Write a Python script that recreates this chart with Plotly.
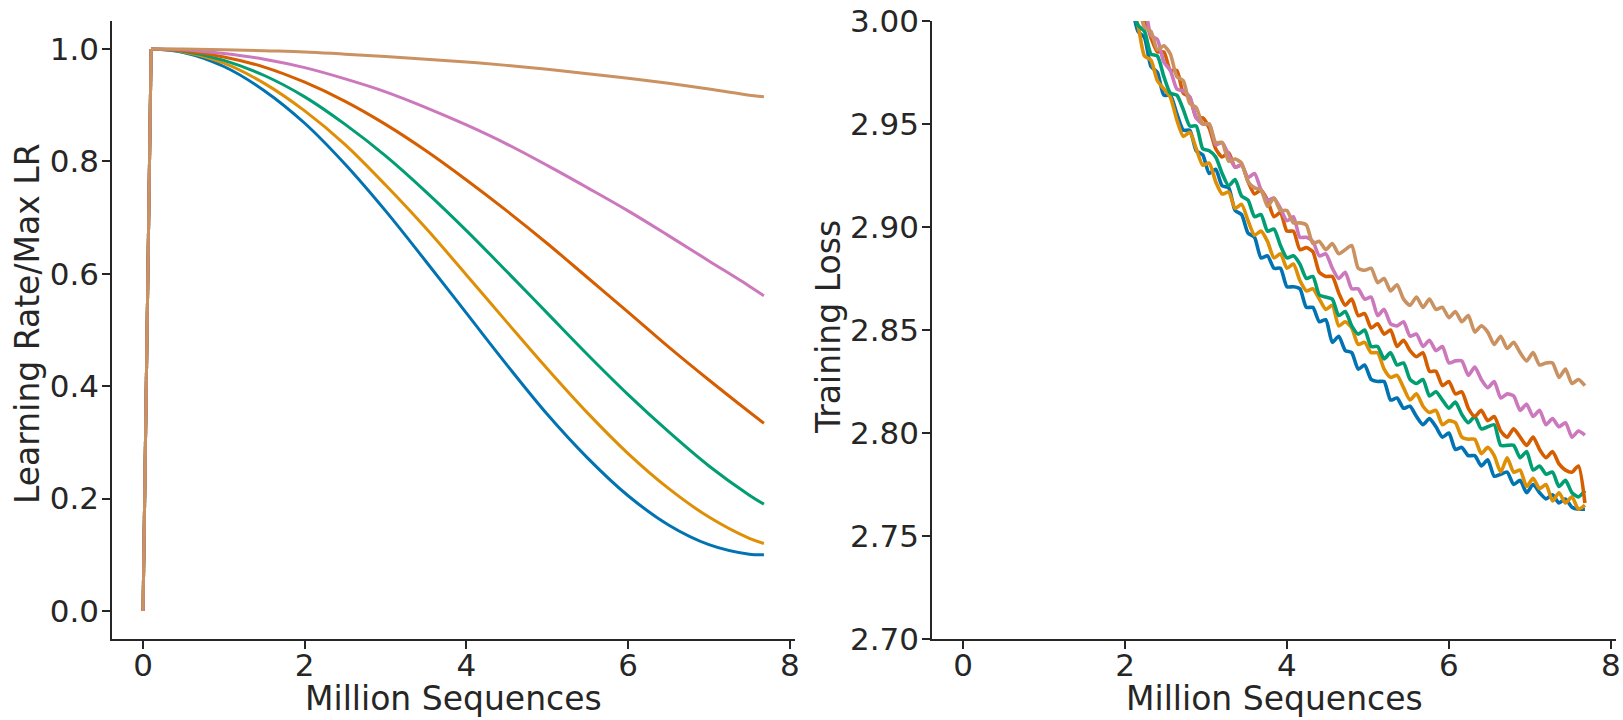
import plotly.graph_objects as go

# ---------------- data ----------------
series_names = ["blue", "orange", "green", "red", "pink", "tan"]
colors = ["#0173B2", "#DE8F05", "#029E73", "#D55E00", "#CC78BC", "#CA9161"]

# Left panel: learning-rate schedules (warmup 0 -> 0.1, then decay)
warmup_x = [0.0, 0.1]
warmup_y = [0.0, 1.0]
lr_x = [0.1, 0.5, 1.0, 1.5, 2.0, 2.5, 3.0, 3.5, 4.0, 4.5, 5.0, 5.5, 6.0, 6.5, 7.0, 7.5, 7.68]
lr_blue   = [1.0, 0.994, 0.969, 0.926, 0.868, 0.795, 0.712, 0.622, 0.530, 0.438, 0.350, 0.272, 0.205, 0.153, 0.118, 0.101, 0.100]
lr_orange = [1.0, 0.995, 0.975, 0.939, 0.890, 0.830, 0.758, 0.681, 0.598, 0.514, 0.431, 0.352, 0.280, 0.218, 0.167, 0.129, 0.120]
lr_green  = [1.0, 0.996, 0.980, 0.953, 0.915, 0.866, 0.810, 0.746, 0.677, 0.604, 0.530, 0.456, 0.385, 0.319, 0.258, 0.206, 0.190]
lr_red    = [1.0, 0.997, 0.986, 0.968, 0.941, 0.907, 0.866, 0.819, 0.767, 0.712, 0.654, 0.593, 0.532, 0.470, 0.411, 0.354, 0.334]
lr_pink   = [1.0, 0.999, 0.992, 0.982, 0.967, 0.947, 0.924, 0.896, 0.865, 0.831, 0.793, 0.753, 0.712, 0.668, 0.623, 0.578, 0.561]
lr_tan    = [1.0, 1.000, 0.999, 0.997, 0.995, 0.991, 0.987, 0.982, 0.977, 0.971, 0.964, 0.956, 0.948, 0.939, 0.929, 0.918, 0.915]
lr_series = [lr_blue, lr_orange, lr_green, lr_red, lr_pink, lr_tan]

# Right panel: training loss
loss_x = [2.08, 2.16, 2.24, 2.32, 2.40, 2.48, 2.56, 2.64, 2.72, 2.80,
          2.88, 2.96, 3.04, 3.12, 3.20, 3.28, 3.36, 3.44, 3.52, 3.60,
          3.68, 3.76, 3.84, 3.92, 4.00, 4.08, 4.16, 4.24, 4.32, 4.40,
          4.48, 4.56, 4.64, 4.72, 4.80, 4.88, 4.96, 5.04, 5.12, 5.20,
          5.28, 5.36, 5.44, 5.52, 5.60, 5.68, 5.76, 5.84, 5.92, 6.00,
          6.08, 6.16, 6.24, 6.32, 6.40, 6.48, 6.56, 6.64, 6.72, 6.80,
          6.88, 6.96, 7.04, 7.12, 7.20, 7.28, 7.36, 7.44, 7.52, 7.60, 7.68]
loss_blue = [3.009, 2.995, 2.992, 2.978, 2.975, 2.964, 2.964, 2.955, 2.947, 2.947,
             2.937, 2.935, 2.926, 2.928, 2.920, 2.919, 2.908, 2.906, 2.897, 2.895,
             2.885, 2.886, 2.880, 2.880, 2.871, 2.871, 2.870, 2.861, 2.861, 2.854,
             2.855, 2.844, 2.847, 2.840, 2.839, 2.831, 2.833, 2.826, 2.825, 2.825,
             2.816, 2.817, 2.812, 2.813, 2.808, 2.804, 2.807, 2.803, 2.798, 2.800,
             2.792, 2.793, 2.789, 2.789, 2.784, 2.787, 2.779, 2.780, 2.781, 2.775,
             2.777, 2.771, 2.775, 2.771, 2.768, 2.770, 2.766, 2.768, 2.764, 2.763, 2.763]
loss_orange = [3.006, 2.998, 2.983, 2.981, 2.971, 2.967, 2.963, 2.952, 2.944, 2.946,
               2.938, 2.930, 2.931, 2.922, 2.916, 2.917, 2.909, 2.911, 2.903, 2.896,
               2.898, 2.893, 2.885, 2.887, 2.880, 2.882, 2.874, 2.869, 2.870, 2.865,
               2.860, 2.862, 2.852, 2.854, 2.851, 2.843, 2.844, 2.839, 2.839, 2.831,
               2.827, 2.828, 2.822, 2.816, 2.819, 2.813, 2.810, 2.811, 2.804, 2.806,
               2.805, 2.798, 2.797, 2.797, 2.790, 2.793, 2.789, 2.781, 2.788, 2.781,
               2.782, 2.774, 2.778, 2.773, 2.775, 2.767, 2.771, 2.766, 2.769, 2.763, 2.765]
loss_green = [3.007, 2.998, 2.995, 2.984, 2.983, 2.973, 2.965, 2.964, 2.957, 2.949,
              2.949, 2.938, 2.937, 2.934, 2.926, 2.920, 2.923, 2.915, 2.913, 2.905,
              2.906, 2.898, 2.899, 2.891, 2.885, 2.886, 2.882, 2.875, 2.876, 2.867,
              2.866, 2.865, 2.857, 2.859, 2.852, 2.848, 2.850, 2.842, 2.842, 2.836,
              2.839, 2.833, 2.834, 2.826, 2.824, 2.826, 2.818, 2.820, 2.816, 2.812,
              2.815, 2.809, 2.805, 2.808, 2.802, 2.803, 2.804, 2.794, 2.794, 2.794,
              2.788, 2.791, 2.782, 2.784, 2.780, 2.781, 2.774, 2.777, 2.771, 2.769, 2.772]
loss_red = [3.010, 3.001, 3.001, 2.992, 2.985, 2.985, 2.976, 2.976, 2.965, 2.963,
            2.953, 2.953, 2.948, 2.938, 2.934, 2.936, 2.929, 2.930, 2.922, 2.916,
            2.918, 2.913, 2.905, 2.907, 2.898, 2.898, 2.889, 2.890, 2.888, 2.878,
            2.876, 2.876, 2.868, 2.862, 2.865, 2.857, 2.858, 2.851, 2.853, 2.848,
            2.850, 2.842, 2.845, 2.840, 2.837, 2.839, 2.830, 2.830, 2.823, 2.825,
            2.819, 2.820, 2.812, 2.808, 2.811, 2.806, 2.808, 2.801, 2.798, 2.802,
            2.798, 2.794, 2.798, 2.792, 2.788, 2.791, 2.785, 2.782, 2.781, 2.784, 2.766]
loss_pink = [3.019, 3.009, 3.007, 2.993, 2.991, 2.980, 2.976, 2.967, 2.966, 2.963,
             2.953, 2.950, 2.950, 2.940, 2.941, 2.935, 2.929, 2.930, 2.924, 2.926,
             2.918, 2.913, 2.914, 2.909, 2.903, 2.905, 2.895, 2.895, 2.893, 2.886,
             2.887, 2.880, 2.875, 2.878, 2.870, 2.870, 2.865, 2.866, 2.857, 2.860,
             2.853, 2.852, 2.854, 2.847, 2.848, 2.842, 2.845, 2.840, 2.842, 2.834,
             2.835, 2.835, 2.828, 2.832, 2.826, 2.822, 2.825, 2.817, 2.819, 2.818,
             2.811, 2.814, 2.808, 2.811, 2.804, 2.807, 2.803, 2.805, 2.798, 2.801, 2.799]
loss_tan = [3.008, 3.007, 2.997, 2.995, 2.986, 2.988, 2.984, 2.973, 2.971, 2.960,
            2.958, 2.950, 2.950, 2.941, 2.941, 2.932, 2.933, 2.931, 2.922, 2.919,
            2.918, 2.910, 2.914, 2.908, 2.908, 2.902, 2.902, 2.901, 2.892, 2.893,
            2.889, 2.892, 2.887, 2.889, 2.891, 2.880, 2.879, 2.880, 2.873, 2.875,
            2.869, 2.872, 2.865, 2.862, 2.866, 2.861, 2.865, 2.860, 2.861, 2.856,
            2.859, 2.854, 2.857, 2.849, 2.852, 2.849, 2.843, 2.847, 2.841, 2.844,
            2.839, 2.835, 2.839, 2.833, 2.834, 2.834, 2.827, 2.831, 2.824, 2.826, 2.823]
loss_series = [loss_blue, loss_orange, loss_green, loss_red, loss_pink, loss_tan]

x_ticks = [0, 2, 4, 6, 8]
lr_ticks = [0.0, 0.2, 0.4, 0.6, 0.8, 1.0]
loss_ticks = [2.70, 2.75, 2.80, 2.85, 2.90, 2.95, 3.00]

x_title = "Million Sequences"
lr_title = "Learning Rate/Max LR"
loss_title = "Training Loss"

# ---------------- figure ----------------
FONT = "DejaVu Sans"
INK = "#262626"
fig = go.Figure()

for name, col, ys in zip(series_names, colors, lr_series):
    fig.add_trace(go.Scatter(x=warmup_x, y=warmup_y, mode="lines", xaxis="x", yaxis="y",
                             line=dict(color=col, width=3), showlegend=False, hoverinfo="skip"))
    fig.add_trace(go.Scatter(x=lr_x, y=ys, mode="lines", name=name, xaxis="x", yaxis="y",
                             line=dict(color=col, width=3, shape="spline", smoothing=1.0),
                             showlegend=False))

for name, col, ys in zip(series_names, colors, loss_series):
    fig.add_trace(go.Scatter(x=loss_x, y=ys, mode="lines", name=name, xaxis="x2", yaxis="y2",
                             line=dict(color=col, width=3.6, shape="spline", smoothing=0.6),
                             showlegend=False))

axis_common = dict(showline=True, linecolor=INK, linewidth=1.6, ticks="outside", ticklen=8,
                   tickwidth=1.6, tickcolor=INK, showgrid=False, zeroline=False, automargin=False,
                   tickfont=dict(family=FONT, size=31, color=INK))
title_font = dict(family=FONT, size=33, color=INK)

L, R, T, B = 112, 7, 21, 81
W, H = 1623, 720
PW, PH = W - L - R, H - T - B

def px_x(p):
    return (p - L) / PW

def px_y(p):
    return (H - B - p) / PH

fig.update_layout(
    width=W, height=H, plot_bgcolor="white", paper_bgcolor="white",
    margin=dict(l=L, r=R, t=T, b=B),
    xaxis=dict(domain=[0, 0.4541], range=[-0.384, 8.064], tickvals=x_ticks, anchor="y",
               ticklabelstandoff=-10, **axis_common),
    yaxis=dict(domain=[0, 1], range=[-0.05, 1.05], tickvals=lr_ticks, tickformat=".1f", anchor="x",
               ticklabelstandoff=-3, **axis_common),
    xaxis2=dict(domain=[0.5452, 1], range=[-0.384, 8.064], tickvals=x_ticks, anchor="y2",
                ticklabelstandoff=-10, **axis_common),
    yaxis2=dict(domain=[0, 1], range=[2.70, 3.00], tickvals=loss_ticks, tickformat=".2f", anchor="x2",
                ticklabelstandoff=-3, **axis_common),
    annotations=[
        dict(text=x_title, xref="paper", yref="paper", x=px_x(453.5), y=px_y(698.5),
             xanchor="center", yanchor="middle", showarrow=False, font=title_font),
        dict(text=x_title, xref="paper", yref="paper", x=px_x(1274), y=px_y(698.5),
             xanchor="center", yanchor="middle", showarrow=False, font=title_font),
        dict(text=lr_title, xref="paper", yref="paper", x=px_x(27), y=px_y(324),
             xanchor="center", yanchor="middle", textangle=-90, showarrow=False, font=title_font),
        dict(text=loss_title, xref="paper", yref="paper", x=px_x(828), y=px_y(327),
             xanchor="center", yanchor="middle", textangle=-90, showarrow=False, font=title_font),
    ],
)

fig.write_html("out.html")
